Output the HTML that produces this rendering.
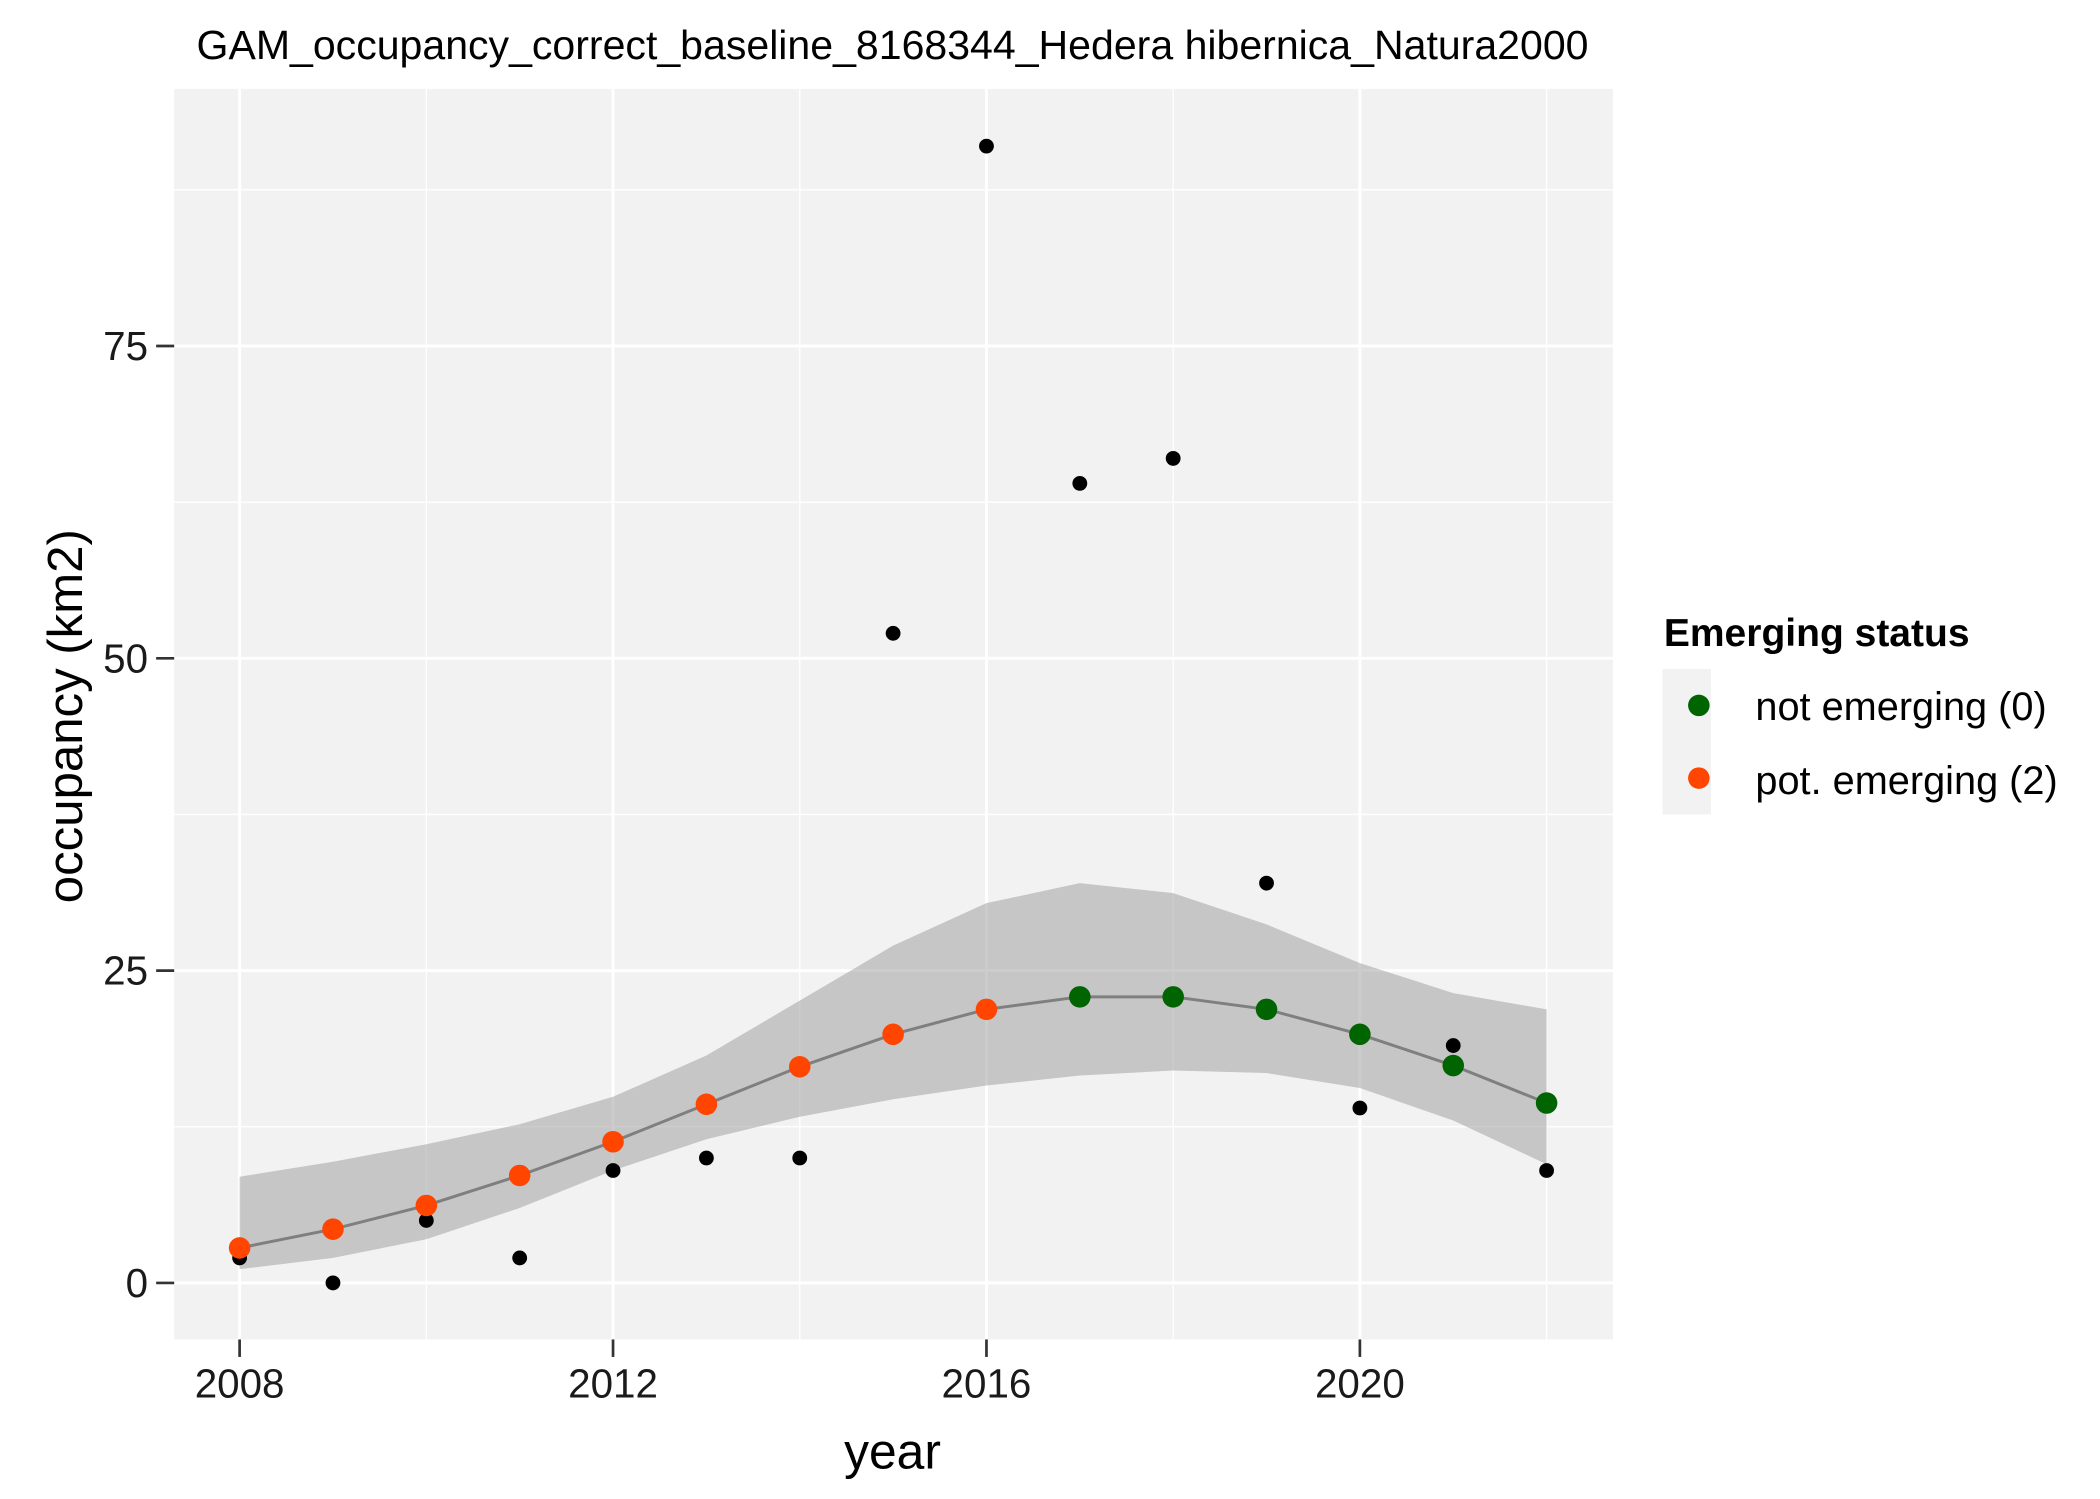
<!DOCTYPE html>
<html><head><meta charset="utf-8"><style>html,body{margin:0;padding:0;background:#fff}svg{display:block;font-family:"Liberation Sans",Arial,sans-serif}</style></head>
<body>
<svg id="chart" width="2100" height="1499" viewBox="0 0 1560 1113.5">
<rect width="1560" height="1113.5" fill="#fff"/>
<text x="663" y="44" font-size="30.5" text-anchor="middle">GAM_occupancy_correct_baseline_8168344_Hedera hibernica_Natura2000</text>
<rect x="129.4" y="66" width="1068.8" height="929" fill="#f2f2f2"/>
<g id="grid"></g>
<g id="band"></g>
<g id="marks"></g>
<g id="axes"></g>
<text x="663" y="1091" font-size="37" text-anchor="middle">year</text>
<text transform="translate(61,532) rotate(-90)" font-size="36.5" text-anchor="middle">occupancy (km2)</text>
<g>
<text x="1236" y="480" font-size="29" font-weight="bold">Emerging status</text>
<rect x="1235" y="497" width="36" height="108" fill="#f2f2f2"/>
<circle cx="1262" cy="524" r="8" fill="#006400"/>
<text x="1304" y="535" font-size="29.5">not emerging (0)</text>
<circle cx="1262" cy="578" r="8" fill="#FF4500"/>
<text x="1304" y="590" font-size="29.5">pot. emerging (2)</text>
</g>
</svg>
<script>
const years=[2008,2009,2010,2011,2012,2013,2014,2015,2016,2017,2018,2019,2020,2021,2022];
const observed=[2,0,5,2,9,10,10,52,91,64,66,32,14,19,9];
const fitted=[2.8,4.3,6.2,8.6,11.3,14.3,17.3,19.9,21.9,22.9,22.9,21.9,19.9,17.4,14.4];
const lower=[1.1,2,3.5,6,9,11.5,13.3,14.7,15.8,16.6,17,16.8,15.6,13,9.5];
const upper=[8.5,9.7,11.1,12.7,14.9,18.2,22.6,27,30.4,32,31.2,28.7,25.6,23.2,21.9];
const status=[2,2,2,2,2,2,2,2,2,0,0,0,0,0,0];
const xTicks=[2008,2012,2016,2020];
const xMinor=[2010,2014,2018,2022];
const yTicks=[0,25,50,75];
const yMinor=[12.5,37.5,62.5,87.5];
const NS='http://www.w3.org/2000/svg';
const X=v=>178+(v-2008)*69.35;
const Y=v=>953-v*9.28;
function mk(tag,attrs,parent){const e=document.createElementNS(NS,tag);for(const k in attrs)e.setAttribute(k,attrs[k]);document.getElementById(parent).appendChild(e);return e;}
yMinor.forEach(v=>{const e=mk('line',{x1:129.4,x2:1198.2,y1:Y(v),y2:Y(v),stroke:'#fff','stroke-width':1},'grid');

});
xMinor.forEach(v=>{const e=mk('line',{x1:X(v),x2:X(v),y1:66,y2:995,stroke:'#fff','stroke-width':1},'grid');

});
yTicks.forEach(v=>{const e=mk('line',{x1:129.4,x2:1198.2,y1:Y(v),y2:Y(v),stroke:'#fff','stroke-width':2.2},'grid');


const t=mk('line',{x1:116,x2:129.4,y1:Y(v),y2:Y(v),stroke:'#333','stroke-width':2},'axes');


const l=mk('text',{x:110,y:Y(v)+10.5,'font-size':30,'text-anchor':'end',fill:'#1a1a1a'},'axes');l.textContent=v;

});
xTicks.forEach(v=>{const e=mk('line',{x1:X(v),x2:X(v),y1:66,y2:995,stroke:'#fff','stroke-width':2.2},'grid');


const t=mk('line',{x1:X(v),x2:X(v),y1:995,y2:1008,stroke:'#333','stroke-width':2},'axes');


const l=mk('text',{x:X(v),y:1038,'font-size':30,'text-anchor':'middle',fill:'#1a1a1a'},'axes');l.textContent=v;

});
let d=years.map((y,i)=>(i?'L':'M')+X(y)+','+Y(upper[i])).join('')+years.slice().reverse().map((y,j)=>{const i=years.length-1-j;return 'L'+X(y)+','+Y(lower[i]);}).join('')+'Z';
const band=mk('path',{d:d,fill:'#999','fill-opacity':0.5},'band');


years.forEach((y,i)=>{const c=mk('circle',{cx:X(y),cy:Y(observed[i]),r:5.5,fill:'#000'},'marks');

});
const line=mk('path',{d:years.map((y,i)=>(i?'L':'M')+X(y)+','+Y(fitted[i])).join(''),fill:'none',stroke:'#7f7f7f','stroke-width':2.2},'marks');


years.forEach((y,i)=>{const c=mk('circle',{cx:X(y),cy:Y(fitted[i]),r:8,fill:status[i]===0?'#006400':'#FF4500'},'marks');

});
</script>
</body></html>
